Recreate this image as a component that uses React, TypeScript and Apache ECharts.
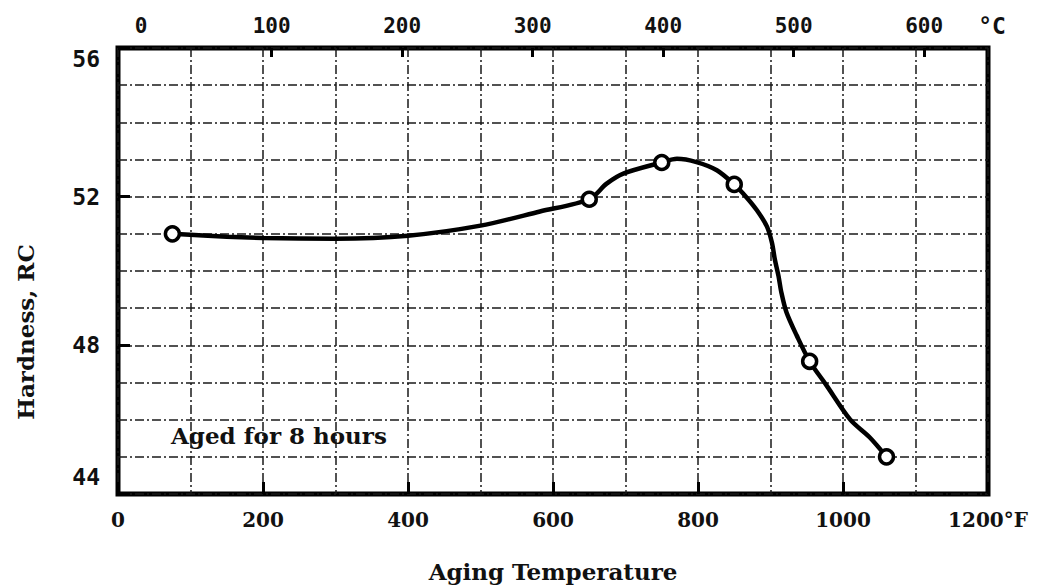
import React, { useEffect, useRef } from "react";
import * as echarts from "echarts";

// Aging temperature (°F) and hardness (RC)
const pointTempF = [75, 650, 750, 850, 954, 1060];
const pointHardness = [51.0, 51.93, 52.92, 52.33, 47.57, 45.0];

// Points
const curveTempF = [75, 150, 200, 300, 400, 500, 582, 650, 674, 697, 750, 771, 798, 826, 850, 867, 881, 895, 902, 906, 911, 915, 922, 936, 954, 977, 1010, 1037, 1060];
const curveHardness = [51.0, 50.92, 50.89, 50.87, 50.95, 51.22, 51.6, 51.93, 52.35, 52.62, 52.92, 53.02, 52.93, 52.71, 52.33, 51.98, 51.64, 51.2, 50.76, 50.31, 49.87, 49.42, 48.89, 48.27, 47.57, 46.93, 46.0, 45.52, 45.0];

const cLabels = [0, 100, 200, 300, 400, 500, 600];
const cTicks = [100, 200, 300, 400, 500, 600];

const F_MIN = 0;
const F_MAX = 1200;
const F_STEP = 200;
const H_MIN = 44;
const H_MAX = 56;
const H_STEP = 4;
const toC = (f: number) => ((f - 32) * 5) / 9;

const serif = "DejaVu Serif";
const mono = "DejaVu Sans Mono";

export default function App() {
  const ref = useRef<HTMLDivElement>(null);
  useEffect(() => {
    if (!ref.current) return;
    const chart = echarts.init(ref.current, undefined, { renderer: "svg" });
    const lineStyle = { color: "#1a1a1a", width: 1.5, type: [9, 3, 2, 3] as any };
    const tickStyle = { color: "#000", width: 3 };
    chart.setOption({
      animation: false,
      backgroundColor: "#ffffff",
      grid: { left: 118, right: 64, top: 48, bottom: 88, show: true, borderColor: "#000", borderWidth: 5, backgroundColor: "transparent" },
      xAxis: [
        {
          type: "value",
          position: "bottom",
          min: F_MIN,
          max: F_MAX,
          interval: F_STEP,
          axisLine: { show: false, onZero: false },
          axisTick: { show: true, inside: true, length: 12, lineStyle: tickStyle },
          minorTick: { show: false, splitNumber: 2 },
          axisLabel: {
            margin: 16,
            fontFamily: serif,
            fontWeight: "bold",
            fontSize: 20,
            color: "#111",
            formatter: (v: number) => (v === 1200 ? "1200°F" : String(v)),
          },
          splitLine: { show: true, lineStyle },
          minorSplitLine: { show: true, lineStyle },
          name: "Aging Temperature",
          nameLocation: "middle",
          nameGap: 66,
          nameTextStyle: { fontFamily: serif, fontWeight: "bold", fontSize: 23, color: "#111" },
        },
        {
          type: "value",
          position: "top",
          min: toC(F_MIN),
          max: toC(F_MAX),
          axisLine: { show: false, onZero: false },
          axisTick: { show: true, inside: true, length: 9, customValues: cTicks, lineStyle: tickStyle },
          axisLabel: { customValues: cLabels, margin: 12, fontFamily: mono, fontWeight: "bold", fontSize: 21, color: "#111" },
          splitLine: { show: false },
        },
      ],
      yAxis: {
        type: "value",
        min: H_MIN,
        max: H_MAX,
        interval: H_STEP,
        axisLine: { show: false, onZero: false },
        axisTick: { show: true, inside: true, length: 12, lineStyle: tickStyle },
        minorTick: { show: false, splitNumber: 4 },
        axisLabel: {
          margin: 18,
          formatter: (v: number) => (v === 56 ? `{lo|${v}}` : v === 44 ? `{hi|${v}}` : `{n|${v}}`),
          rich: {
            lo: { fontFamily: mono, fontWeight: "bold", fontSize: 23, color: "#111", padding: [22, 0, 0, 0] },
            hi: { fontFamily: mono, fontWeight: "bold", fontSize: 23, color: "#111", padding: [0, 0, 34, 0] },
            n: { fontFamily: mono, fontWeight: "bold", fontSize: 23, color: "#111" },
          },
        },
        splitLine: { show: true, lineStyle },
        minorSplitLine: { show: true, lineStyle },
      },
      graphic: [
        {
          type: "text",
          left: 171,
          top: 424,
          style: { text: "Aged for 8 hours", font: `bold 23px "${serif}"`, fill: "#111" },
          z: 100,
        },
        {
          type: "text",
          x: 25,
          y: 332,
          rotation: Math.PI / 2,
          style: { text: "Hardness, RC", font: `bold 23px "${serif}"`, fill: "#111", align: "center", verticalAlign: "middle" },
        },
        {
          type: "text",
          x: 992,
          y: 26,
          style: { text: "°C", font: `bold 23px "${mono}"`, fill: "#111", align: "center", verticalAlign: "middle" },
        },
      ],
      series: [
        {
          type: "line",
          xAxisIndex: 0,
          data: curveTempF.map((f, i) => [f, curveHardness[i]]),
          smooth: 0.3,
          showSymbol: false,
          lineStyle: { color: "#000", width: 4.5 },
          z: 5,
        },
        {
          type: "scatter",
          xAxisIndex: 0,
          data: pointTempF.map((f, i) => [f, pointHardness[i]]),
          symbol: "circle",
          symbolSize: 14,
          itemStyle: { color: "#fff", borderColor: "#000", borderWidth: 3.5, opacity: 1 },
          z: 10,
        },
      ],
    });
    return () => chart.dispose();
  }, []);
  return <div ref={ref} style={{ width: 1052, height: 588, position: "absolute", left: 0, top: 0 }} />;
}
